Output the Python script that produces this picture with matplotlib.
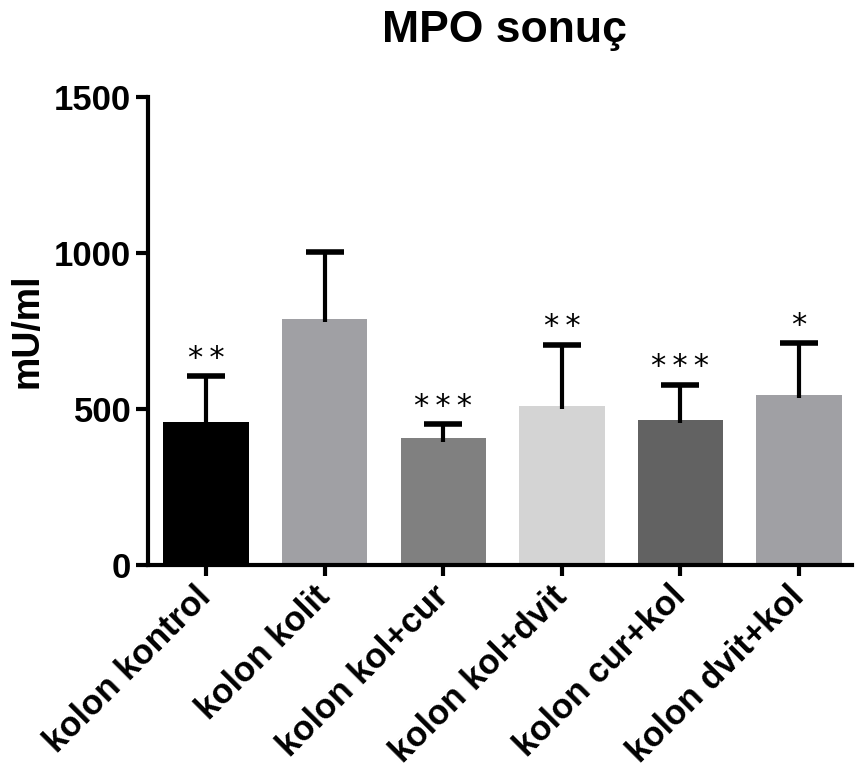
import matplotlib
matplotlib.use("Agg")
import matplotlib.pyplot as plt

plt.rcParams["font.family"] = ["Liberation Sans", "DejaVu Sans"]

# Values
groups = ["kolon kontrol", "kolon kolit", "kolon kol+cur",
          "kolon kol+dvit", "kolon cur+kol", "kolon dvit+kol"]
means = [458, 788, 406, 509, 465, 547]
upper_err = [147, 216, 45, 196, 112, 164]
stars = ["**", "", "***", "**", "***", "*"]
colors = ["#000000", "#a0a0a4", "#808080", "#d4d4d4", "#626262", "#a0a0a4"]
yticks = [0, 500, 1000, 1500]

fig = plt.figure(figsize=(8.55, 7.72), dpi=100)
ax = fig.add_axes([0.173, 0.268, 0.824, 0.606])

x = list(range(len(groups)))
tops = [m + e for m, e in zip(means, upper_err)]
ax.bar(x, means, width=0.72, color=colors, zorder=2)
# upper-only error bars (stem + cap)
ax.vlines(x, [m - 10 for m in means], tops, color="black", lw=3, zorder=3)
ax.hlines(tops, [xi - 0.16 for xi in x], [xi + 0.16 for xi in x],
          color="black", lw=4, zorder=3)

for xi, t, s in zip(x, tops, stars):
    if s:
        ax.text(xi, t + 12, "\u2009".join(s), ha="center", va="bottom",
                fontsize=22, family=["DejaVu Sans"])

ax.set_xlim(-0.49, 5.45)
ax.set_ylim(0, 1500)
ax.set_yticks(yticks)
ax.set_xticks(x)
ax.set_xticklabels(groups, rotation=45, ha="right", va="center",
                   rotation_mode="anchor", fontsize=25, fontweight="bold")
for lab in ax.get_yticklabels():
    lab.set_fontsize(25)
    lab.set_fontweight("bold")

for side in ["top", "right"]:
    ax.spines[side].set_visible(False)
for side in ["left", "bottom"]:
    ax.spines[side].set_linewidth(3)
ax.tick_params(axis="y", width=3, length=9, pad=3)
ax.tick_params(axis="x", width=3, length=8, pad=11)

ax.set_ylabel("mU/ml", fontsize=27, fontweight="bold", labelpad=6)
fig.text(0.59, 0.961, "MPO sonuç", ha="center", va="center",
         fontsize=32, fontweight="bold")

plt.savefig("out.png", dpi=100)
